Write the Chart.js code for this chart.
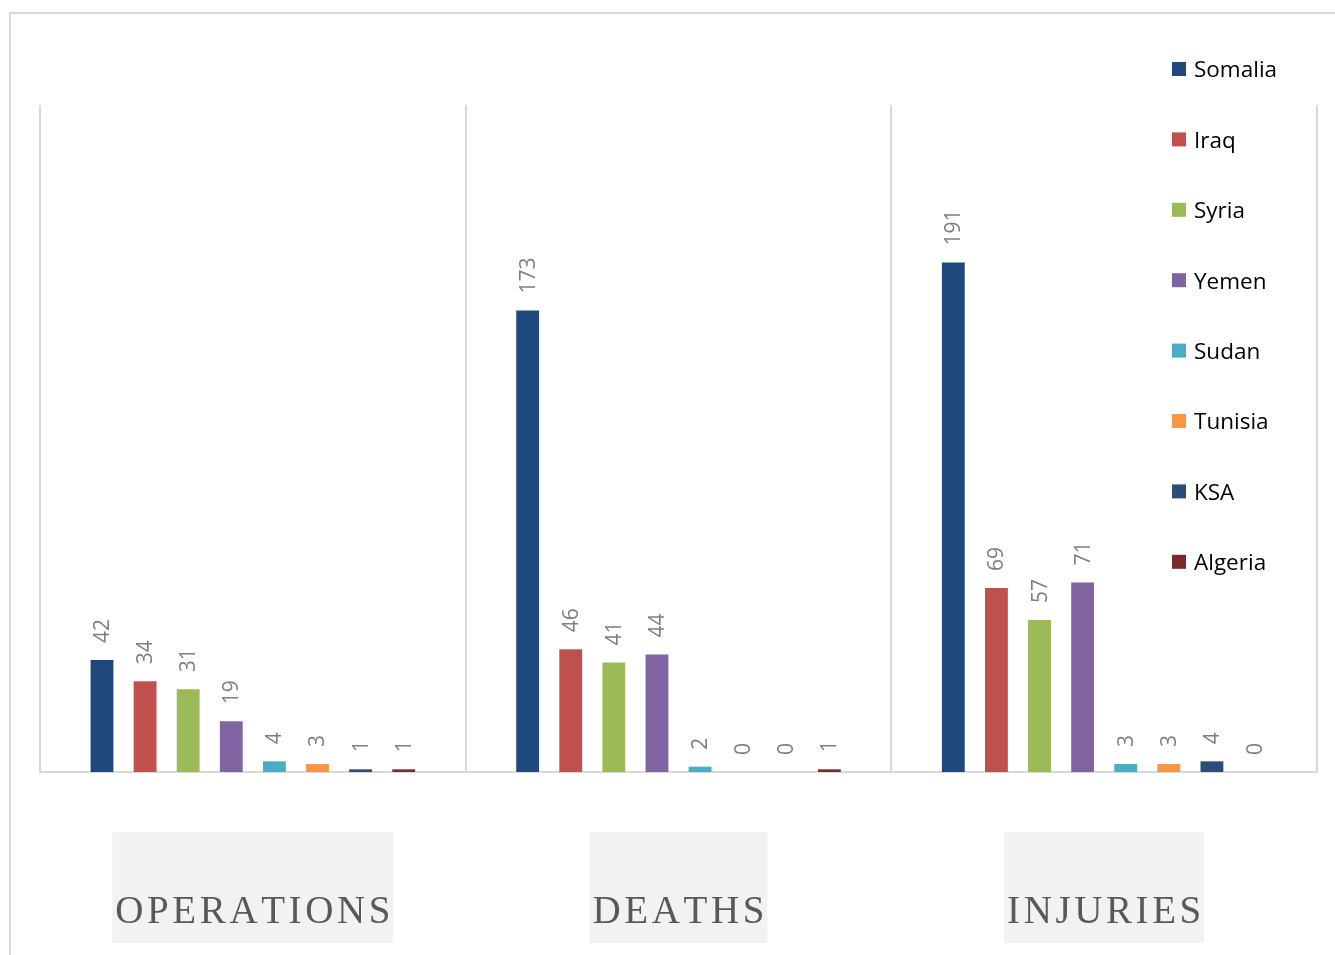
<!DOCTYPE html>
<html>
<head>
<meta charset="utf-8">
<script src="https://cdn.jsdelivr.net/npm/chart.js@4.4.1/dist/chart.umd.min.js"></script>
<style>
  body { margin: 0; background: #fff; overflow: hidden; }
  #wrap { position: relative; width: 1335px; height: 955px; }
</style>
</head>
<body>
<div id="wrap"><canvas id="attacksChart" width="1335" height="955"></canvas></div>
<script>
var categories = ['OPERATIONS', 'DEATHS', 'INJURIES'];
var countries = ['Somalia', 'Iraq', 'Syria', 'Yemen', 'Sudan', 'Tunisia', 'KSA', 'Algeria'];
var somalia = [42, 173, 191];
var iraq = [34, 46, 69];
var syria = [31, 41, 57];
var yemen = [19, 44, 71];
var sudan = [4, 2, 3];
var tunisia = [3, 0, 3];
var ksa = [1, 0, 4];
var algeria = [1, 1, 0];
var colors = ['#1f497d', '#c0504d', '#9bbb59', '#8064a2', '#4bacc6', '#f79646', '#2c4d75', '#772c2a'];

var seriesValues = [somalia, iraq, syria, yemen, sudan, tunisia, ksa, algeria];

var datasets = countries.map(function (name, i) {
    return {
        label: name,
        data: seriesValues[i],
        backgroundColor: colors[i],
        borderWidth: 0,
        categoryPercentage: 0.81,
        barPercentage: 0.53
    };
});

// frame, data labels, legend and boxed category names
var extras = {
    id: 'extras',
    beforeDraw: function (chart) {
        var ctx = chart.ctx;
        ctx.save();
        ctx.strokeStyle = '#d9d9d9';
        ctx.lineWidth = 2;
        ctx.strokeRect(10, 13, 1400, 1000);
        ctx.restore();
    },
    afterDatasetsDraw: function (chart) {
        var ctx = chart.ctx;
        ctx.save();
        ctx.fillStyle = '#7f7f7f';
        ctx.font = '21px "Open Sans"';
        ctx.textAlign = 'left';
        ctx.textBaseline = 'middle';
        chart.data.datasets.forEach(function (ds, i) {
            chart.getDatasetMeta(i).data.forEach(function (bar, j) {
                ctx.save();
                ctx.translate(bar.x, bar.y - 17);
                ctx.rotate(-Math.PI / 2);
                ctx.fillText(String(ds.data[j]), 0, 1);
                ctx.restore();
            });
        });
        ctx.restore();
    },
    afterDraw: function (chart) {
        var ctx = chart.ctx;
        ctx.save();
        // legend
        ctx.font = '22.5px "Open Sans"';
        ctx.textBaseline = 'middle';
        chart.data.datasets.forEach(function (ds, i) {
            var y = 69 + i * 70.4;
            ctx.fillStyle = ds.backgroundColor;
            ctx.fillRect(1172, y - 7, 14, 14);
            ctx.fillStyle = '#000';
            ctx.fillText(ds.label, 1194, y + 2);
        });

        // category names under the axis
        var xScale = chart.scales.x;
        var spacing = 3.6;
        ctx.font = '39px "Liberation Serif"';
        ctx.textBaseline = 'alphabetic';
        chart.data.labels.forEach(function (label, i) {
            var cx = xScale.getPixelForTick(i);
            var chars = label.split('');
            var w = 0;
            chars.forEach(function (c, k) {
                w += ctx.measureText(c).width + (k < chars.length - 1 ? spacing : 0);
            });
            ctx.fillStyle = '#f2f2f2';
            ctx.fillRect(cx - w / 2 - 3, 832, w + 6, 111);
            ctx.fillStyle = '#595959';
            var x = cx - w / 2;
            chars.forEach(function (c) {
                ctx.fillText(c, x, 923);
                x += ctx.measureText(c).width + spacing;
            });
        });
        ctx.restore();
    }
};

var ctx = document.getElementById('attacksChart').getContext('2d');
var myChart = new Chart(ctx, {
    type: 'bar',
    data: {
        labels: categories,
        datasets: datasets
    },
    options: {
        responsive: false,
        animation: false,
        layout: {
            padding: { left: 40, right: 18, top: 105, bottom: 183 }
        },
        plugins: {
            legend: { display: false },
            tooltip: { enabled: false }
        },
        scales: {
            x: {
                ticks: { display: false },
                grid: {
                    color: '#d9d9d9',
                    lineWidth: 2,
                    drawTicks: false
                },
                border: { color: '#d9d9d9', width: 2 }
            },
            y: {
                display: false,
                min: 0,
                max: 250
            }
        }
    },
    plugins: [extras]
});
</script>
</body>
</html>
